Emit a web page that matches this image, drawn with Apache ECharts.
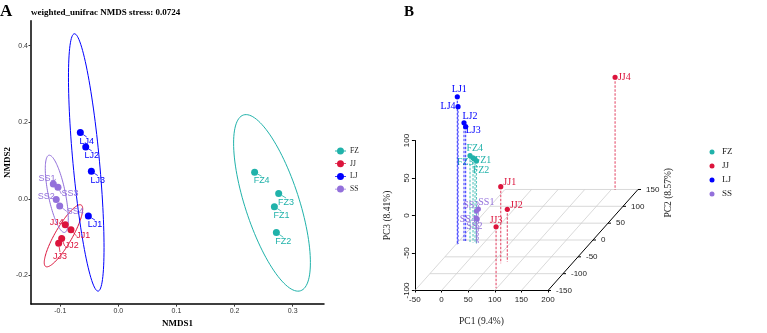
<!DOCTYPE html>
<html lang="en">
<head>
<meta charset="UTF-8">
<title>NMDS / PCoA</title>
<script src="https://cdn.jsdelivr.net/npm/echarts@6/dist/echarts.min.js"></script>
<style>html,body{margin:0;padding:0;background:#fff}</style>
</head>
<body>
<div id="main" style="width:767px;height:333px"></div>
<script type="text/javascript">
// groups and colours
var groups = ['FZ', 'JJ', 'LJ', 'SS'];
var groupColors = ['#20B2AA', '#DC143C', '#0000FF', '#9370DB'];

// A: weighted unifrac NMDS
var nmdsSamples = ['FZ1', 'FZ2', 'FZ3', 'FZ4', 'JJ1', 'JJ2', 'JJ3', 'JJ4', 'LJ1', 'LJ2', 'LJ3', 'LJ4', 'SS1', 'SS2', 'SS3', 'SS4'];
var nmds1 = [0.2685, 0.2719, 0.2759, 0.2345, -0.0816, -0.0976, -0.1028, -0.0914, -0.0517, -0.0562, -0.0465, -0.0655, -0.112, -0.107, -0.104, -0.101];
var nmds2 = [-0.0207, -0.088, 0.0137, 0.069, -0.081, -0.104, -0.116, -0.068, -0.0448, 0.135, 0.0716, 0.173, 0.0388, -0.002, 0.030, -0.019];
// confidence ellipses (group order): centre, half widths, tilt (position of the top point, -1..1)
var ellCx = [0.2644, -0.0945, -0.0553, -0.106];
var ellCy = [-0.0107, -0.0966, 0.0949, 0.0129];
var ellRx = [0.0661, 0.0331, 0.0306, 0.0198];
var ellRy = [0.2305, 0.0811, 0.336, 0.1009];
var ellTilt = [-0.677, 0.86, -0.662, -0.65];

// B: PCoA
var pcSamples = ['FZ1', 'FZ2', 'FZ3', 'FZ4', 'JJ1', 'JJ2', 'JJ3', 'JJ4', 'LJ1', 'LJ2', 'LJ3', 'LJ4', 'SS1', 'SS2', 'SS3', 'SS4'];
var pc1 = [-16.5, -13, -21.2, -27.6, 65.7, 75.4, 98.8, 157.8, -46.4, -40.6, -37.5, -46.8, -10.3, -12.5, -13.7, -14];
var pc2 = [-9, -10.4, -7.4, -6, -69.2, -64.5, -143.5, 148.5, -15, -3, -3, -11.9, -9, -9, -9, -9];
var pc3 = [11.6, 10, 12.7, 15.1, 2.1, -30.1, -17.9, 50.3, 97.7, 57.7, 52.4, 83.1, -54.7, -68, -57.3, -66.7];
var pc1Ticks = [-50, 0, 50, 100, 150, 200];
var pc2Ticks = [-150, -100, -50, 0, 50, 100, 150];

// label placement (pixels)
var nmdsLabelOff = {
    FZ1: [7, 9], FZ2: [7, 9.3], FZ3: [7.4, 9], FZ4: [7, 8.4],
    JJ1: [12.3, 6], JJ2: [10, 7.4], JJ3: [1.3, 13.3], JJ4: [-8.6, -2.3],
    LJ1: [6.7, 8.7], LJ2: [6, 8.3], LJ3: [6.4, 8.7], LJ4: [6.4, 9],
    SS1: [-6.3, -5], SS2: [-10, -2.7], SS3: [12, 6.7], SS4: [15.6, 5.4]
};
var pcLabelOff = {
    FZ1: [8, 0.7], FZ2: [4.5, 9], FZ3: [-7.7, 4.7], FZ4: [4.7, -7.7],
    JJ1: [9, -4], JJ2: [9, -4.3], JJ3: [0, -6.7], JJ4: [9.2, 0],
    LJ1: [2, -7.4], LJ2: [6, -6], LJ3: [7.6, 4], LJ4: [-10, 0],
    SS1: [8, -6.7], SS2: [-2.8, 7], SS3: [-5.3, -6], SS4: [-8.5, 1.3]
};
// oblique depth of the PC2 axis, pixels per unit
var depthX = 0.3, depthY = 0.3367;

var serif = '"Liberation Serif", "Times New Roman", serif';
var sans = '"Liberation Sans", Arial, sans-serif';

var myChart = echarts.init(document.getElementById('main'));

function project(api, x, y, z) {
    var p = api.coord([x, z]);
    var k = y - pc2Ticks[0];
    return [p[0] + k * depthX, p[1] - k * depthY];
}

var series = [];

// A: ellipses
groups.forEach(function (g, gi) {
    series.push({
        type: 'custom',
        name: g + '-ell',
        xAxisIndex: 0, yAxisIndex: 0,
        silent: true,
        z: 1,
        data: [[ellCx[gi], ellCy[gi]]],
        renderItem: function (params, api) {
            var phi = Math.acos(ellTilt[gi]);
            var pts = [];
            for (var i = 0; i <= 120; i++) {
                var t = i / 120 * Math.PI * 2;
                pts.push(api.coord([ellCx[gi] + ellRx[gi] * Math.cos(t), ellCy[gi] + ellRy[gi] * Math.cos(t + phi)]));
            }
            return {type: 'polyline', shape: {points: pts}, style: {stroke: groupColors[gi], fill: null, lineWidth: 1}};
        }
    });
});

// A: points
groups.forEach(function (g, gi) {
    var data = [];
    nmdsSamples.forEach(function (s, i) {
        if (s.slice(0, 2) === g) data.push({name: s, value: [nmds1[i], nmds2[i]]});
    });
    series.push({
        type: 'scatter',
        name: g,
        xAxisIndex: 0, yAxisIndex: 0,
        symbolSize: 7,
        itemStyle: {color: groupColors[gi], opacity: 1},
        data: data,
        label: {show: true, position: 'inside', formatter: '{b}', color: groupColors[gi], fontSize: 9, fontFamily: sans},
        labelLayout: function (p) {
            var o = nmdsLabelOff[p.text] || [0, 0];
            return {dx: o[0], dy: o[1]};
        },
        labelLine: {show: true, lineStyle: {width: 0.8, color: groupColors[gi]}},
        emphasis: {disabled: true}
    });
});

// B: bottom plane grid and PC2 axis
series.push({
    type: 'custom',
    name: 'frame',
    xAxisIndex: 1, yAxisIndex: 1,
    silent: true,
    z: 1,
    data: [[0, 0]],
    renderItem: function (params, api) {
        var zMin = -100, ch = [];
        var x0 = pc1Ticks[0], x1 = pc1Ticks[pc1Ticks.length - 1];
        var y0 = pc2Ticks[0], y1 = pc2Ticks[pc2Ticks.length - 1];
        pc2Ticks.slice(1).forEach(function (v) {
            var a = project(api, x0, v, zMin), b = project(api, x1, v, zMin);
            ch.push({type: 'line', shape: {x1: a[0], y1: a[1], x2: b[0], y2: b[1]}, style: {stroke: '#cfcfcf', lineWidth: 0.8}});
        });
        pc1Ticks.slice(0, -1).forEach(function (v) {
            var a = project(api, v, y0, zMin), b = project(api, v, y1, zMin);
            ch.push({type: 'line', shape: {x1: a[0], y1: a[1], x2: b[0], y2: b[1]}, style: {stroke: '#cfcfcf', lineWidth: 0.8}});
        });
        var s = project(api, x1, y0, zMin), e = project(api, x1, y1, zMin);
        ch.push({type: 'line', shape: {x1: s[0], y1: s[1], x2: e[0], y2: e[1]}, style: {stroke: '#000', lineWidth: 1}});
        pc2Ticks.forEach(function (v) {
            var p = project(api, x1, v, zMin);
            ch.push({type: 'line', shape: {x1: p[0], y1: p[1], x2: p[0] + 3, y2: p[1]}, style: {stroke: '#000', lineWidth: 1}});
            ch.push({type: 'text', style: {text: String(v), x: p[0] + 8, y: p[1], fill: '#222', font: '8px ' + sans, align: 'left', verticalAlign: 'middle'}});
        });
        return {type: 'group', children: ch};
    }
});

// B: points with drop lines
groups.forEach(function (g, gi) {
    var data = [], names = [];
    pcSamples.forEach(function (s, i) {
        if (s.slice(0, 2) === g) { data.push([pc1[i], pc3[i], pc2[i]]); names.push(s); }
    });
    series.push({
        type: 'custom',
        name: g + '-B',
        xAxisIndex: 1, yAxisIndex: 1,
        silent: true,
        z: 3,
        itemStyle: {color: groupColors[gi]},
        data: data,
        renderItem: function (params, api) {
            var x = api.value(0), z = api.value(1), y = api.value(2);
            var top = project(api, x, y, z), base = project(api, x, y, -100);
            var o = pcLabelOff[names[params.dataIndex]];
            return {type: 'group', children: [
                {type: 'line', shape: {x1: top[0], y1: top[1], x2: base[0], y2: base[1]},
                    style: {stroke: groupColors[gi], lineWidth: 1.1, lineDash: [2.5, 1.5], opacity: 0.75}},
                {type: 'circle', shape: {cx: top[0], cy: top[1], r: 2.6}, style: {fill: groupColors[gi]}},
                {type: 'text', style: {text: names[params.dataIndex], x: top[0] + o[0], y: top[1] + o[1],
                    fill: groupColors[gi], font: '10px ' + serif, align: 'center', verticalAlign: 'middle'}}
            ]};
        }
    });
});

var option = {
    animation: false,
    backgroundColor: '#fff',
    title: [
        {text: 'A', left: 0, top: 3, padding: 0, textStyle: {fontFamily: serif, fontSize: 17, fontWeight: 'bold', color: '#000'}},
        {text: 'weighted_unifrac NMDS stress: 0.0724', left: 31, top: 8, padding: 0, textStyle: {fontFamily: serif, fontSize: 9, fontWeight: 'bold', color: '#000'}},
        {text: 'B', left: 404, top: 5, padding: 0, textStyle: {fontFamily: serif, fontSize: 15, fontWeight: 'bold', color: '#000'}}
    ],
    legend: [
        {
            data: groups,
            orient: 'vertical', left: 335, top: 147, padding: 0,
            itemWidth: 11, itemHeight: 7, itemGap: 4.7,
            icon: 'path://M0,3.1h11v0.8h-11z M5.5,0 A3.5,3.5 0 1,1 5.49,0 Z',
            selectedMode: false,
            textStyle: {fontFamily: serif, fontSize: 7.5, color: '#222', padding: [0, 0, 0, -1]}
        },
        {
            data: groups.map(function (g) { return g + '-B'; }),
            formatter: function (n) { return n.slice(0, 2); },
            orient: 'vertical', left: 709.5, top: 147.5, padding: 0,
            itemWidth: 6, itemHeight: 5, itemGap: 5,
            icon: 'circle',
            selectedMode: false,
            textStyle: {fontFamily: serif, fontSize: 9, color: '#222', padding: [0, 0, 0, 2]}
        }
    ],
    grid: [
        {left: 31, top: 20.7, width: 293, height: 285.3},
        {left: 414.9, top: 140.5, width: 133.1, height: 150}
    ],
    xAxis: [
        {
            type: 'value', gridIndex: 0, min: -0.1504, max: 0.3539,
            name: 'NMDS1', nameLocation: 'middle', nameGap: 9,
            nameTextStyle: {fontFamily: serif, fontWeight: 'bold', fontSize: 9, color: '#000'},
            axisLine: {show: true, onZero: false, lineStyle: {color: '#000', width: 1.5}},
            axisTick: {show: true, length: 2.5, customValues: [-0.1, 0, 0.1, 0.2, 0.3], lineStyle: {color: '#333'}},
            axisLabel: {customValues: [-0.1, 0, 0.1, 0.2, 0.3], margin: 3, fontSize: 7, fontFamily: sans, color: '#333',
                formatter: function (v) { return v.toFixed(1); }},
            splitLine: {show: false}
        },
        {
            type: 'value', gridIndex: 1, min: -50, max: 200, interval: 50,
            name: 'PC1 (9.4%)', nameLocation: 'middle', nameGap: 26,
            nameTextStyle: {fontFamily: serif, fontSize: 9.5, color: '#222'},
            axisLine: {show: true, onZero: false, lineStyle: {color: '#000', width: 1}},
            axisTick: {show: true, length: 2, lineStyle: {color: '#000'}},
            axisLabel: {margin: 5, fontSize: 8, fontFamily: sans, color: '#222'},
            splitLine: {show: false}
        }
    ],
    yAxis: [
        {
            type: 'value', gridIndex: 0, min: -0.275, max: 0.465,
            name: 'NMDS2', nameLocation: 'middle', nameGap: 14,
            nameTextStyle: {fontFamily: serif, fontWeight: 'bold', fontSize: 9, color: '#000'},
            axisLine: {show: true, onZero: false, lineStyle: {color: '#000', width: 1.5}},
            axisTick: {show: true, length: 2.5, customValues: [-0.2, 0, 0.2, 0.4], lineStyle: {color: '#333'}},
            axisLabel: {customValues: [-0.2, 0, 0.2, 0.4], margin: 3, fontSize: 7, fontFamily: sans, color: '#333',
                formatter: function (v) { return v.toFixed(1); }},
            splitLine: {show: false}
        },
        {
            type: 'value', gridIndex: 1, min: -100, max: 100, interval: 50,
            name: 'PC3 (8.41%)', nameLocation: 'middle', nameGap: 22,
            nameTextStyle: {fontFamily: serif, fontSize: 9.5, color: '#222'},
            axisLine: {show: true, onZero: false, lineStyle: {color: '#000', width: 1}},
            axisTick: {show: true, length: 3, lineStyle: {color: '#000'}},
            axisLabel: {margin: 4, rotate: 90, fontSize: 8, fontFamily: sans, color: '#222'},
            splitLine: {show: false}
        }
    ],
    graphic: [
        {type: 'text', left: 663, top: 168, rotation: Math.PI / 2,
            style: {text: 'PC2 (8.57%)', font: '9.5px ' + serif, fill: '#222'}}
    ],
    series: series
};
myChart.setOption(option);
</script>
</body>
</html>
